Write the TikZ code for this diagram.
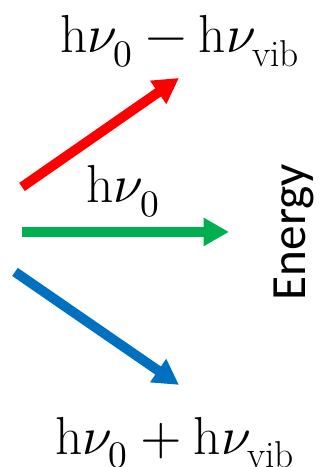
\documentclass[tikz,border=0pt]{standalone}
\usepackage{unicode-math}
\newfontfamily\energyfont{Carlito}
\usetikzlibrary{arrows.meta}

\definecolor{stokesred}{RGB}{255,0,0}
\definecolor{rayleighgreen}{RGB}{0,176,80}
\definecolor{antiblue}{RGB}{0,112,192}

\tikzset{
  photon/.style={line width=7pt,-{Triangle[length=18pt,width=19pt]}},
  freqlabel/.style={inner sep=0pt,anchor=base,font=\fontsize{38}{41}\selectfont},
}

\begin{document}
\begin{tikzpicture}[xscale=0.025,yscale=-0.025]
\useasboundingbox (0,0) rectangle (320,467);

% Start and end points of the three scattered photons.
\coordinate (redstart) at (22,187);
\coordinate (redend) at (179,78);
\coordinate (greenstart) at (22,232);
\coordinate (greenend) at (229,232);
\coordinate (bluestart) at (15,272);
\coordinate (blueend) at (179,385);

% Labels.
\node[freqlabel] (stokes) at (180,53)
  {$\mathrm{h}\nu_0 - \mathrm{h}\nu_{\mathrm{vib}}$};
\node[freqlabel] (rayleigh) at (123,203) {$\mathrm{h}\nu_0$};
\node[freqlabel] (antistokes) at (175,454)
  {$\mathrm{h}\nu_0 + \mathrm{h}\nu_{\mathrm{vib}}$};
\node[inner sep=0pt,anchor=base,rotate=90,
  font=\energyfont\fontsize{35}{38}\selectfont] (energy) at (305,232) {Energy};

% Arrows.
\draw[photon,stokesred] (redstart) -- (redend);
\draw[photon,rayleighgreen] (greenstart) -- (greenend);
\draw[photon,antiblue] (bluestart) -- (blueend);

\end{tikzpicture}
\end{document}
